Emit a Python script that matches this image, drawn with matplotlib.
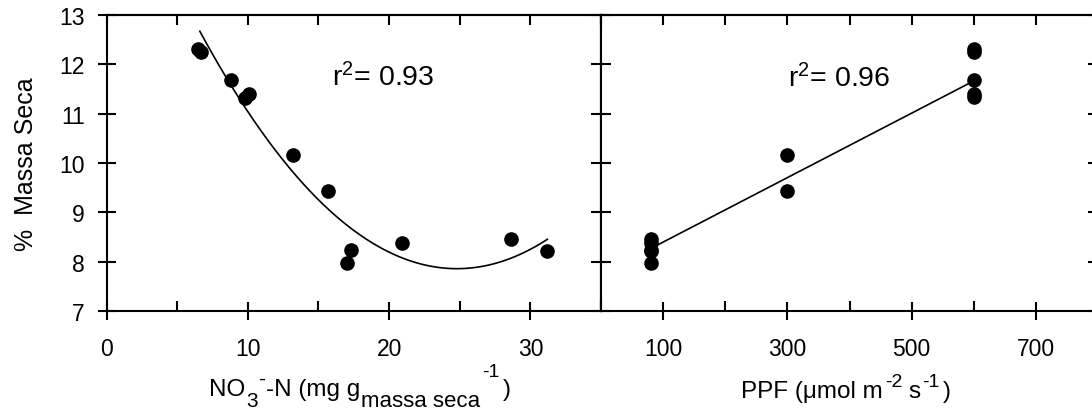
import numpy as np
import matplotlib
matplotlib.use("Agg")
from matplotlib import pyplot as plt

plt.rcParams['font.family'] = ['Liberation Sans', 'DejaVu Sans']
plt.rcParams['mathtext.fontset'] = 'custom'
plt.rcParams['mathtext.rm'] = 'Liberation Sans'
plt.rcParams['mathtext.it'] = 'Liberation Sans:italic'
plt.rcParams['mathtext.bf'] = 'Liberation Sans:bold'

# nitrate panel
no3_x = [6.5, 6.7, 8.8, 9.8, 10.1, 13.2, 15.7, 17.0, 17.3, 20.9, 28.6, 31.2]
no3_y = [12.30, 12.24, 11.68, 11.32, 11.40, 10.16, 9.44, 7.97, 8.23, 8.38, 8.46, 8.21]
no3_fit = [0.0145, -0.7192, 16.78]   # quadratic fit, r2 = 0.93
no3_fit_range = [6.6, 31.2]

# PPF panel
ppf_x = [80, 80, 80, 80, 80, 300, 300, 600, 600, 600, 600, 600]
ppf_y = [8.46, 8.38, 8.23, 8.21, 7.97, 10.16, 9.44, 12.30, 12.24, 11.68, 11.40, 11.33]
ppf_fit = [0.00652, 7.748]           # linear fit, r2 = 0.96
ppf_fit_range = [80, 600]

y_ticks = [7, 8, 9, 10, 11, 12, 13]
no3_major = [0, 10, 20, 30]
no3_minor = [5, 15, 25, 35]
ppf_major = [100, 300, 500, 700]
ppf_minor = [0, 200, 400, 600, 800]

fs = 16.5
lw = 1.5
S = 17.5

fig = plt.figure(figsize=(10.92, 4.14), dpi=100)
ax1 = fig.add_axes([0.0976, 0.2457, 0.4528, 0.7164])
ax2 = fig.add_axes([0.5504, 0.2457, 0.4551, 0.7164])


def style(ax, major, minor, xlim, show_y):
    ax.set_xlim(*xlim)
    ax.set_ylim(7, 13)
    for s in ax.spines.values():
        s.set_linewidth(lw)
    ax.set_xticks(major)
    ax.set_xticks(minor, minor=True)
    ax.set_yticks(y_ticks)
    ax.tick_params(axis='x', which='major', direction='inout', length=12.5,
                   width=lw, labelsize=fs, pad=12, top=False)
    ax.tick_params(axis='x', which='minor', direction='in', length=7.5,
                   width=lw, top=False)
    ax.tick_params(axis='y', which='major', direction='inout' if show_y else 'in',
                   length=12.5 if show_y else 7.5, width=lw, labelsize=fs,
                   pad=9.5, labelleft=show_y, right=False)
    top = ax.secondary_xaxis('top')
    top.set_xticks(sorted(major + minor))
    top.tick_params(direction='in', length=7.5, width=lw, labeltop=False)
    top.spines['top'].set_linewidth(lw)
    right = ax.secondary_yaxis('right')
    right.set_yticks(y_ticks)
    right.tick_params(direction='in', length=7.5, width=lw, labelright=False)
    right.spines['right'].set_linewidth(lw)


def rich_text(fig, cx, base_y, pieces):
    # pieces: (text, size, dy px, gap px before); cx/base_y in px from bottom-left
    renderer = fig.canvas.get_renderer()
    W, H = fig.get_size_inches() * fig.dpi
    arts = []
    total = 0
    for txt, size, dy, gap in pieces:
        t = fig.text(0, 0, txt, fontsize=size, ha='left', va='baseline')
        w = t.get_window_extent(renderer).width
        arts.append((t, w, dy, gap))
        total += gap + w
    x = cx - total / 2
    for t, w, dy, gap in arts:
        x += gap
        t.set_position((x / W, (base_y + dy) / H))
        x += w


style(ax1, no3_major, no3_minor, (0, 35), True)
style(ax2, ppf_major, ppf_minor, (0, 800), False)

ax1.plot(no3_x, no3_y, 'o', color='black', markersize=9.5)
xc = np.linspace(no3_fit_range[0], no3_fit_range[1], 200)
ax1.plot(xc, np.polyval(no3_fit, xc), color='black', lw=1.2)
ax1.text(19.6, 11.74, r'r$^2$= 0.93', fontsize=20.5, ha='center', va='center')

ax2.plot(ppf_x, ppf_y, 'o', color='black', markersize=9.5)
xl = np.array(ppf_fit_range)
ax2.plot(xl, np.polyval(ppf_fit, xl), color='black', lw=1.2)
ax2.text(384, 11.72, r'r$^2$= 0.96', fontsize=20.5, ha='center', va='center')

ax1.set_ylabel('%  Massa Seca', fontsize=18, va='center')
ax1.yaxis.set_label_coords(-0.163, 0.5)

rich_text(fig, 360, 414 - 396, [
    ('NO', S, 0, 0), ('3', 15, -11, 1), ('-', 15, 11, 0),
    ('-N (mg g', S, 0, 1), ('massa seca', 16, -11, 1),
    ('-1', 14, 19, 2), (')', S, 0, 3)])
rich_text(fig, 846, 414 - 398, [
    ('PPF (\u03bcmol m', S, 0, 0), ('-2', 14, 11, 2), ('s', S, 0, 6),
    ('-1', 14, 11, 2), (')', S, 0, 3)])

fig.savefig('out.png', dpi=100)
